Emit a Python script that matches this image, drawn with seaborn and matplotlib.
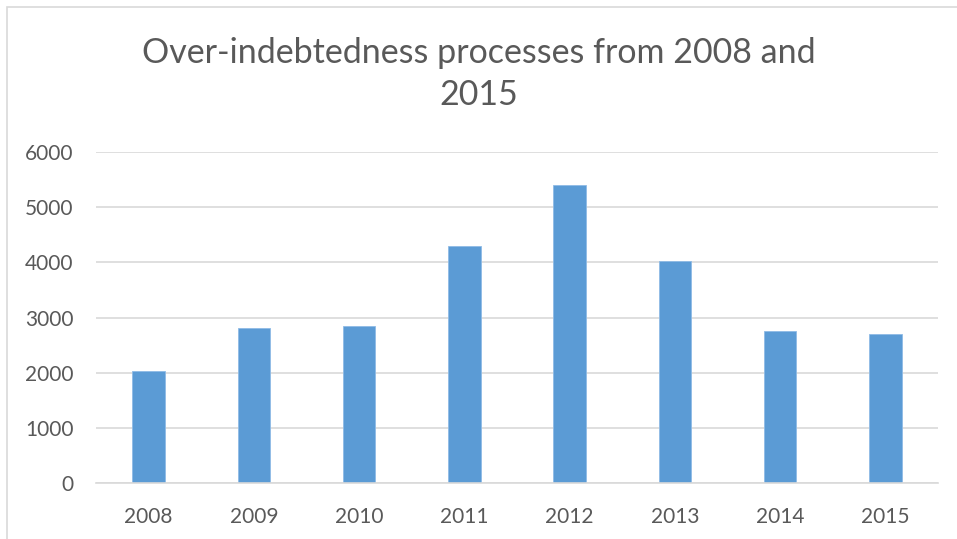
import matplotlib
matplotlib.use("Agg")
import matplotlib.pyplot as plt
import seaborn as sns
import pandas as pd
from matplotlib.patches import Rectangle

years = ["2008", "2009", "2010", "2011", "2012", "2013", "2014", "2015"]
processes = [2030, 2810, 2840, 4290, 5400, 4030, 2765, 2710]
y_ticks = [0, 1000, 2000, 3000, 4000, 5000, 6000]
title = "Over-indebtedness processes from 2008 and\n2015"

sns.set_theme(style="white")
plt.rcParams["font.family"] = ["Lato", "DejaVu Sans"]

df = pd.DataFrame({"year": years, "value": processes})

fig = plt.figure(figsize=(9.57, 5.39), dpi=100)
ax = fig.add_axes([96/957, 1 - 483.3/539, (938-96)/957, (483.3-152)/539])

sns.barplot(data=df, x="year", y="value", color="#5b9bd5", width=0.31,
            saturation=1, ax=ax, edgecolor="#8fbbe6", linewidth=0.6)

ax.set_ylim(0, 6000)
ax.set_yticks(y_ticks)
ax.set_xlim(-0.5, len(years) - 0.5)
ax.yaxis.grid(True, color="#d9d9d9", linewidth=1.2)
ax.set_axisbelow(True)
for s in ["left", "right", "top"]:
    ax.spines[s].set_visible(False)
ax.spines["bottom"].set_color("#d9d9d9")
ax.spines["bottom"].set_linewidth(1.2)
ax.tick_params(axis="both", length=0, labelsize=15, colors="#595959")
ax.tick_params(axis="y", pad=16)
ax.tick_params(axis="x", pad=17)
ax.set_xlabel("")
ax.set_ylabel("")

fig.text(0.5, 1 - 74/539, title, ha="center", va="center", fontsize=24.5,
         color="#595959", linespacing=1.4)

fig.patches.append(Rectangle((7/957, -0.05), 1.0, 1 - 7/539 + 0.05,
                             transform=fig.transFigure, fill=False,
                             edgecolor="#d9d9d9", linewidth=1.2))

fig.savefig("out.png", dpi=100)
